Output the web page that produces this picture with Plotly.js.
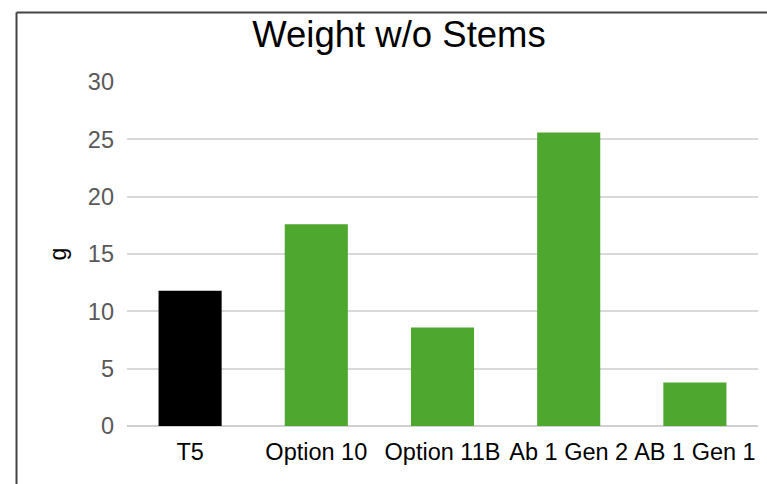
<!DOCTYPE html>
<html>
<head>
<meta charset="utf-8">
<script src="https://cdn.plot.ly/plotly-3.0.1.min.js"></script>
<style>
html, body { margin: 0; padding: 0; background: #fff; }
#chart { width: 767px; height: 484px; }
</style>
</head>
<body>
<div id="chart"></div>
<script>
const categories = ["T5", "Option 10", "Option 11B", "Ab 1 Gen 2", "AB 1 Gen 1"];
const weights = [11.8, 17.6, 8.6, 25.6, 3.8];
const barColors = ["#000000", "#4ea72e", "#4ea72e", "#4ea72e", "#4ea72e"];
const yTicks = [0, 5, 10, 15, 20, 25, 30];

const W = 767, H = 484;
const m = { l: 127, r: 9, t: 82, b: 58 };
const pw = W - m.l - m.r, ph = H - m.t - m.b;
const px = x => (x - m.l) / pw;
const py = y => (H - m.b - y) / ph;

const trace = {
  type: "bar",
  x: categories,
  y: weights,
  marker: { color: barColors, line: { width: 0 } },
  hoverinfo: "x+y"
};

const layout = {
  width: W, height: H,
  margin: m,
  paper_bgcolor: "#ffffff",
  plot_bgcolor: "#ffffff",
  font: { family: "Liberation Sans, Arial, sans-serif", color: "#000" },
  showlegend: false,
  bargap: 0.5,
  title: {
    text: "Weight w/o Stems",
    font: { size: 36.5, color: "#000" },
    x: 399 / W, xref: "container", xanchor: "center",
    y: 1 - 34.5 / H, yref: "container", yanchor: "middle"
  },
  xaxis: {
    type: "category",
    tickangle: 0,
    showgrid: false,
    zeroline: false,
    showline: false,
    ticks: "",
    tickfont: { size: 23.5, color: "#000" },
    ticklabelstandoff: 9
  },
  yaxis: {
    range: [0, 30],
    tickvals: yTicks,
    ticktext: yTicks.map(String),
    showgrid: true,
    gridcolor: "#d9d9d9",
    gridwidth: 2,
    zeroline: true,
    zerolinecolor: "#d0d0d0",
    zerolinewidth: 2,
    showline: false,
    ticks: "",
    tickfont: { size: 23.5, color: "#595959" },
    ticklabelstandoff: 12,
    title: { text: "g", font: { size: 23, color: "#000" }, standoff: 14 }
  },
  shapes: [
    { type: "line", xref: "paper", yref: "paper",
      x0: px(16.5), x1: px(16.5), y0: py(12.5), y1: py(495),
      line: { color: "#444444", width: 2 } },
    { type: "line", xref: "paper", yref: "paper",
      x0: px(16.5), x1: px(780), y0: py(12.5), y1: py(12.5),
      line: { color: "#444444", width: 2 } }
  ]
};

Plotly.newPlot("chart", [trace], layout, { displayModeBar: false, staticPlot: true });
</script>
</body>
</html>
